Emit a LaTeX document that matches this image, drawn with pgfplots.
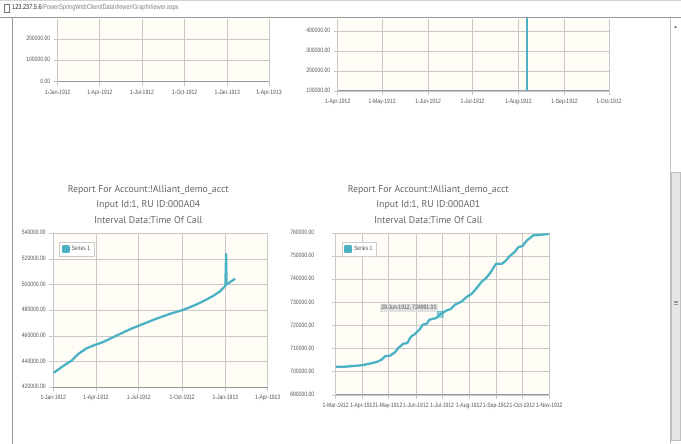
\documentclass[border=0pt]{standalone}
\usepackage{fontspec}
\usepackage{pgfplots}
\pgfplotsset{compat=1.18}
\setmainfont{Liberation Sans}
\newfontfamily\tickfam[FakeStretch=0.8]{Liberation Sans}
\newfontfamily\titlefam{PT Sans}
\newcommand\tf{\tickfam\fontsize{6.3pt}{7pt}\selectfont}
\newcommand\ttl{\titlefam\fontsize{9.8pt}{11pt}\selectfont}
\newcommand\urlf{\tickfam\fontsize{7pt}{7pt}\selectfont}
\definecolor{lc}{HTML}{4BB2C5}
\definecolor{bgc}{HTML}{FFFDF6}
\definecolor{gridc}{HTML}{C8C8C8}
\definecolor{axc}{HTML}{999999}
\definecolor{tickc}{HTML}{555555}
\definecolor{titlec}{HTML}{666666}
\definecolor{legc}{HTML}{CCCCCC}
\definecolor{ttbg}{HTML}{D8D8D8}
\pgfplotsset{
  jq/.style={
    scale only axis,
    anchor=south west,
    axis background/.style={fill=bgc},
    grid=major,
    major grid style={draw=gridc, line width=0.8pt},
    axis x line*=bottom, axis y line*=left,
    x axis line style={draw=axc, line width=1pt},
    y axis line style={draw=none},
    tick style={draw=gridc, line width=0.8pt},
    tick align=outside, major tick length=4pt,
    ticklabel style={font=\tf, text=tickc},
    typeset ticklabels with strut,
    scaled y ticks=false,
    yticklabel style={/pgf/number format/fixed, /pgf/number format/fixed zerofill, /pgf/number format/precision=2, /pgf/number format/1000 sep={}, /pgf/number format/assume math mode=true},
    legend style={at={(0,1)}, anchor=north west, xshift=6pt, yshift=-8.5pt, draw=legc, fill=white, font=\tf, text=tickc, inner sep=2.2pt, cells={anchor=west}},
    legend image code/.code={\fill[lc] (0pt,-2.8pt) rectangle (5.6pt,2.8pt);},
  },
  ser/.style={color=lc, line width=2.3pt, line join=round, line cap=round, mark=none},
}
\begin{document}
\begin{tikzpicture}
\path[use as bounding box, fill=white] (0,0) rectangle (681pt,444pt);
% browser chrome
\fill[black!18] (0pt,442.8pt) rectangle (681pt,444pt);
\draw[black!40, line width=0.8pt] (0pt,426.5pt) -- (681pt,426.5pt);
\draw[black!55, line width=0.5pt] (4pt,432pt) rectangle (9pt,440pt);
\node[anchor=west, inner sep=0pt, font=\urlf] at (12pt,436pt) {\textcolor{black!85}{123.237.5.6}\textcolor{black!50}{/PowerSpringWebClient/DataViewer/GraphViewer.aspx}};
\draw[black!40, line width=1pt] (12.3pt,0pt) -- (12.3pt,426pt);
\draw[black!25, line width=1pt] (670pt,0pt) -- (670pt,426pt);
\fill[black!10] (671pt,4pt) rectangle (680.5pt,272pt);
\draw[black!25, line width=0.5pt] (671pt,4pt) rectangle (680.5pt,272pt);
\foreach \yy in {140pt,141.5pt,143pt} \draw[black!40, line width=0.4pt] (673.5pt,\yy) -- (678pt,\yy);
\fill[black!50] (674pt,416pt) -- (677pt,416pt) -- (675.5pt,418.5pt) -- cycle;

% top-left chart (partly hidden)
\begin{axis}[jq, at={(57.7pt,362.3pt)}, width=211.3pt, height=62.7pt,
  xmin=0, xmax=456, ymin=0, ymax=295800,
  xtick={0,91,182,274,366,456},
  xticklabels={1-Jan-1912,1-Apr-1912,1-Jul-1912,1-Oct-1912,1-Jan-1913,1-Apr-1913},
  ytick={0,100000,200000}]
\end{axis}

% top-right chart (partly hidden)
\begin{axis}[jq, at={(337.7pt,353pt)}, width=271.3pt, height=72pt,
  xmin=0, xmax=183, ymin=100000, ymax=463600,
  xtick={0,30,61,91,122,153,183},
  xticklabels={1-Apr-1912,1-May-1912,1-Jun-1912,1-Jul-1912,1-Aug-1912,1-Sep-1912,1-Oct-1912},
  ytick={100000,200000,300000,400000}]
\addplot[color=lc, line width=2pt] coordinates {(128,100000) (128,700000)};
\end{axis}

% titles
\node[font=\ttl, text=titlec] at (148.3pt,254pt) {Report For Account:!Alliant\_demo\_acct};
\node[font=\ttl, text=titlec] at (148.3pt,239pt) {Input Id:1, RU ID:000A04};
\node[font=\ttl, text=titlec] at (148.3pt,224pt) {Interval Data:Time Of Call};
\node[font=\ttl, text=titlec] at (428.3pt,254pt) {Report For Account:!Alliant\_demo\_acct};
\node[font=\ttl, text=titlec] at (428.3pt,239pt) {Input Id:1, RU ID:000A01};
\node[font=\ttl, text=titlec] at (428.3pt,224pt) {Interval Data:Time Of Call};

% bottom-left chart
\begin{axis}[jq, at={(53.3pt,56.7pt)}, width=214.4pt, height=154pt,
  xmin=0, xmax=456, ymin=420000, ymax=540000,
  xtick={0,91,182,274,366,456},
  xticklabels={1-Jan-1912,1-Apr-1912,1-Jul-1912,1-Oct-1912,1-Jan-1913,1-Apr-1913},
  ytick={420000,440000,460000,480000,500000,520000,540000}]
\addplot[ser] coordinates {
(1.5,431440) (21.3,436640) (39,440800) (53.2,446000) (70.9,450400) (88.6,453000)
(106.3,455300) (134.6,460300) (162.9,465200) (191.2,469400) (219.5,473500)
(247.9,477200) (276.2,480300) (297.4,483400) (318.7,487000) (339.9,491200)
(354,494600) (366,499000) (367.5,523900) (368.5,500200) (385.9,504400)};
\addlegendentry{Series 1}
\end{axis}

% bottom-right chart
\begin{axis}[jq, at={(335.7pt,49pt)}, width=213.6pt, height=161.7pt,
  xmin=0, xmax=245, ymin=690000, ymax=760000,
  xtick={0,31,61,92,122,153,184,214,245},
  xticklabels={1-Mar-1912,1-Apr-1912,1-May-1912,1-Jun-1912,1-Jul-1912,1-Aug-1912,1-Sep-1912,1-Oct-1912,1-Nov-1912},
  ytick={690000,700000,710000,720000,730000,740000,750000,760000},
  yticklabel style={xshift=-14pt}]
\addplot[ser] coordinates {
(0,702160) (12.6,702300) (29.8,702880) (39.3,703600) (47,704300) (52.7,705300)
(56.6,706800) (62.3,707000) (68,708500) (71.9,710400) (77.6,712200) (82.2,712500)
(86,715100) (92.1,716800) (96.7,718600) (99.8,720400) (104.4,720900) (107.4,722600)
(115.1,723300) (120,724991) (127.3,726600) (131.9,727200) (136.9,729100) (144.5,730500)
(151,732700) (156,733800) (161.7,736300) (167.5,739100) (172.4,740600) (177,742700)
(183.9,746800) (190.4,746800) (194.2,747800) (199.9,750200) (205.6,752100)
(209.5,754000) (214.4,754500) (219,756800) (226.7,759100) (234.3,759300) (243.9,759700)};
\addlegendentry{Series 1}
\addplot[only marks, mark=square*, mark size=3pt, mark options={fill=lc, draw=lc, opacity=0.55}, forget plot] coordinates {(120,724991)};
\node[fill=ttbg, fill opacity=0.75, text opacity=1, font=\tf, text=tickc, anchor=south east, inner sep=1.8pt, xshift=-2pt, yshift=1.5pt] at (axis cs:120,724991) {29-Jun-1912, 724991.00};
\end{axis}
\end{tikzpicture}
\end{document}
